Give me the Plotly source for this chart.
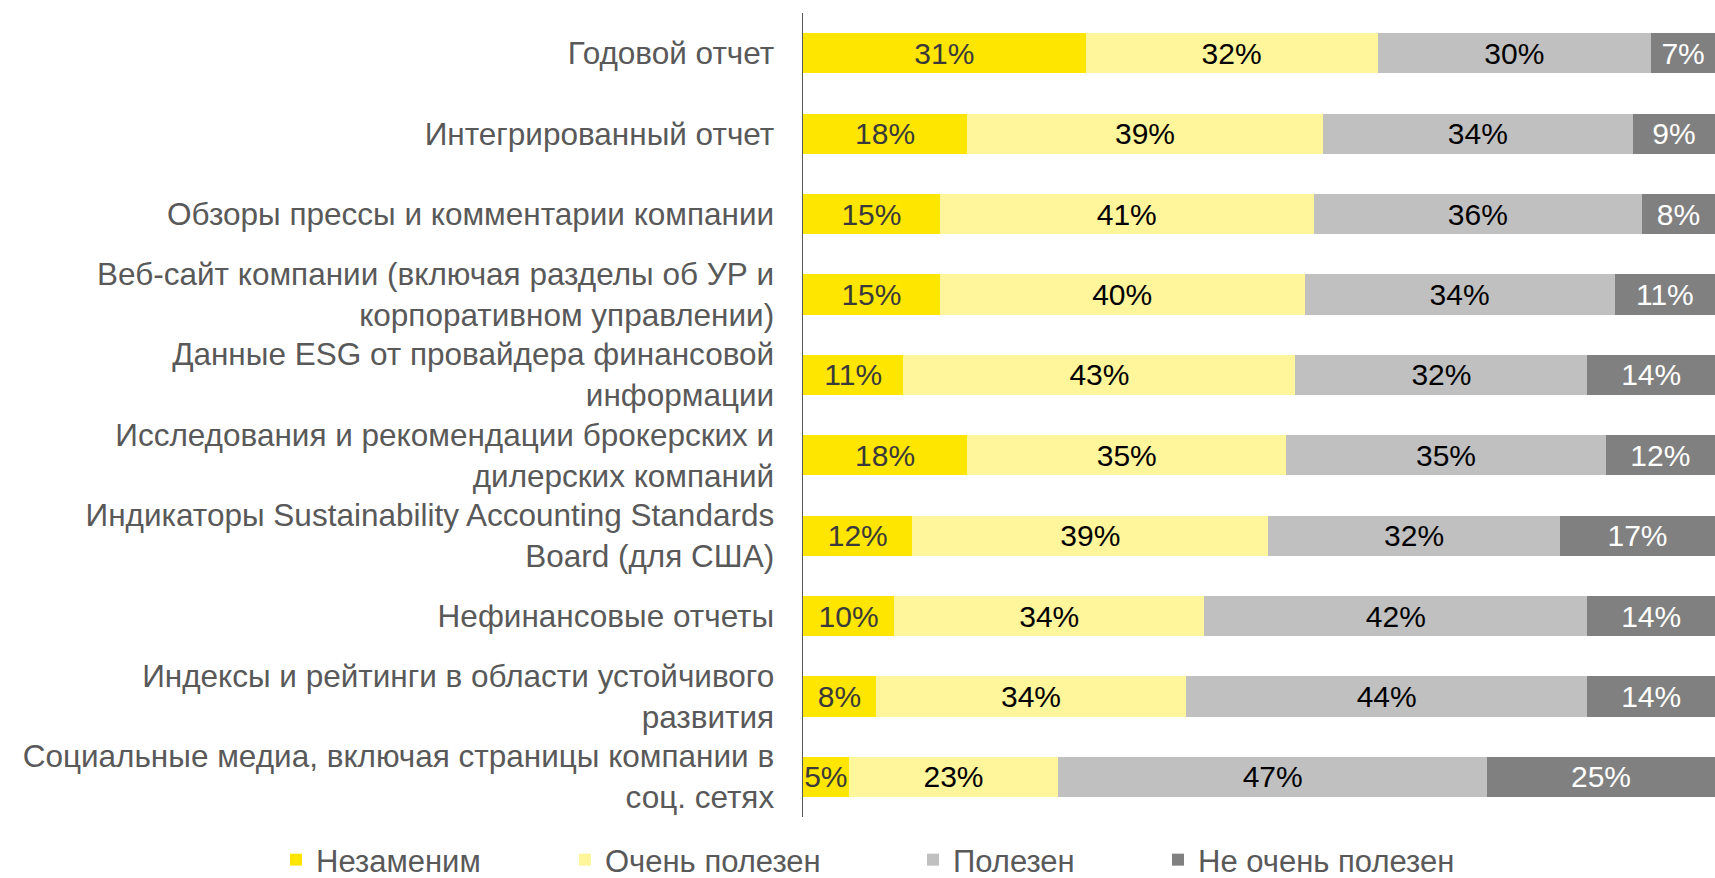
import plotly.graph_objects as go

categories = [
    "Годовой отчет",
    "Интегрированный отчет",
    "Обзоры прессы и комментарии компании",
    "Веб-сайт компании (включая разделы об УР и<br>корпоративном управлении)",
    "Данные ESG от провайдера финансовой<br>информации",
    "Исследования и рекомендации брокерских и<br>дилерских компаний",
    "Индикаторы Sustainability Accounting Standards<br>Board (для США)",
    "Нефинансовые отчеты",
    "Индексы и рейтинги в области устойчивого<br>развития",
    "Социальные медиа, включая страницы компании в<br>соц. сетях",
]

series_names = ["Незаменим", "Очень полезен", "Полезен", "Не очень полезен"]
irreplaceable = [31, 18, 15, 15, 11, 18, 12, 10, 8, 5]
very_useful = [32, 39, 41, 40, 43, 35, 39, 34, 34, 23]
useful = [30, 34, 36, 34, 32, 35, 32, 42, 44, 47]
not_very_useful = [7, 9, 8, 11, 14, 12, 17, 14, 14, 25]

series_values = [irreplaceable, very_useful, useful, not_very_useful]
colors = ["#FFE600", "#FFF59B", "#C0C0C0", "#808080"]
text_colors = ["#3A3A3A", "#000000", "#000000", "#FFFFFF"]

FONT = "Liberation Sans, Arial, sans-serif"
LABEL_SIZE = 31.5
LEGEND_SIZE = 31
DATA_SIZE = 30
W, H = 1715, 878
L, R, T, B = 803, 0, 13, 61
plot_w = W - L - R
plot_h = H - T - B

fig = go.Figure()
legend_px = [276, 565, 913, 1158]
legend_keys = ["legend", "legend2", "legend3", "legend4"]
for i, (name, vals) in enumerate(zip(series_names, series_values)):
    fig.add_trace(go.Bar(
        y=categories, x=vals, name=name, orientation="h",
        marker=dict(color=colors[i], line=dict(width=0)),
        texttemplate="%{x}%", textposition="inside", insidetextanchor="middle",
        textfont=dict(family=FONT, size=DATA_SIZE, color=text_colors[i]),
        width=0.5, legend=legend_keys[i],
        hoverinfo="skip",
    ))

layout_legends = {}
for i, key in enumerate(legend_keys):
    layout_legends[key] = dict(
        x=(legend_px[i] - L) / plot_w, y=(T + plot_h - 860) / plot_h,
        xanchor="left", yanchor="middle", orientation="h",
        font=dict(family=FONT, size=LEGEND_SIZE, color="#595959"),
        bgcolor="rgba(0,0,0,0)",
    )

fig.update_layout(
    width=W, height=H,
    barmode="stack",
    margin=dict(l=L, r=R, t=T, b=B, autoexpand=False),
    plot_bgcolor="white", paper_bgcolor="white",
    showlegend=True,
    uniformtext=dict(minsize=DATA_SIZE, mode="show"),
    font=dict(family=FONT, size=LABEL_SIZE, color="#595959"),
    **layout_legends,
)
fig.update_xaxes(range=[0, 100], visible=False, fixedrange=True)
fig.update_yaxes(
    autorange="reversed", showline=True, linecolor="#595959", linewidth=1.5,
    ticks="", ticklabelstandoff=21, showgrid=False, zeroline=False,
    tickfont=dict(family=FONT, size=LABEL_SIZE, color="#595959"),
    automargin=False, fixedrange=True,
)

fig.write_html(
    "out.html",
    config={"displayModeBar": False, "staticPlot": True},
    post_script="document.body.style.margin='0';document.body.style.overflow='hidden';",
)
